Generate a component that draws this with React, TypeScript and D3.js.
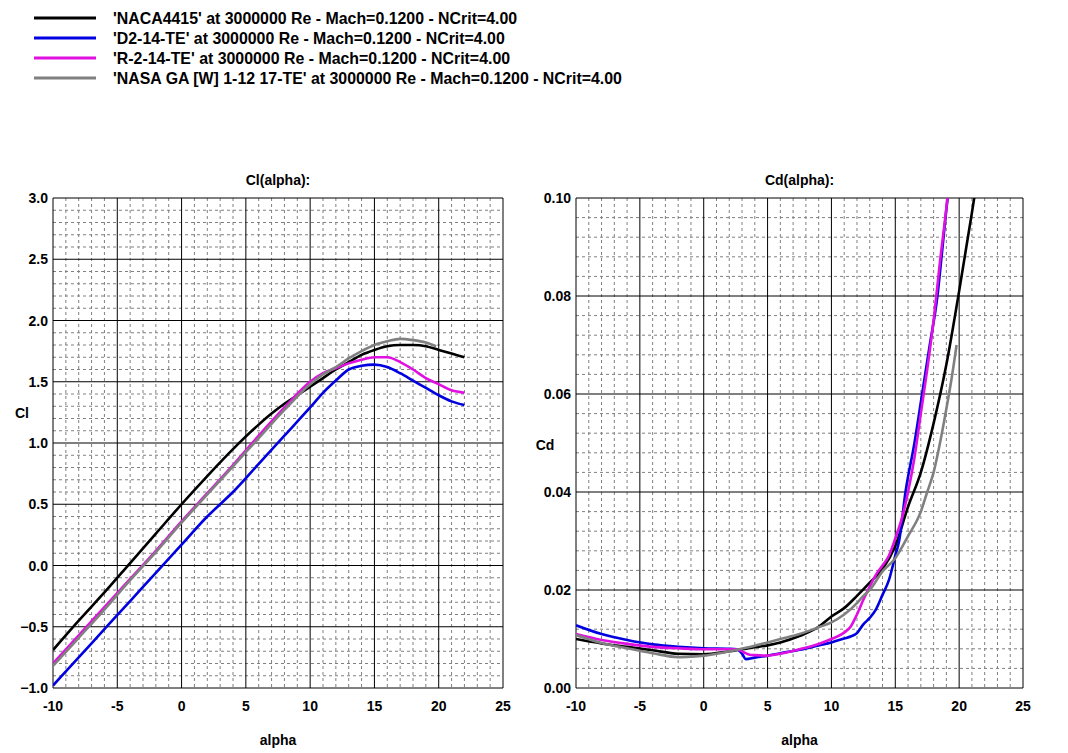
import React from "react";
import * as d3 from "d3";

const seriesNames = [
  "'NACA4415' at 3000000 Re - Mach=0.1200 - NCrit=4.00",
  "'D2-14-TE' at 3000000 Re - Mach=0.1200 - NCrit=4.00",
  "'R-2-14-TE' at 3000000 Re - Mach=0.1200 - NCrit=4.00",
  "'NASA GA [W] 1-12 17-TE' at 3000000 Re - Mach=0.1200 - NCrit=4.00",
];
const seriesColors = ["#000000", "#0000e0", "#e010e0", "#808080"];

// Cl(alpha): [alpha, Cl]
const clNaca4415: [number, number][] = [
  [-10, -0.69], [-8, -0.45], [-6, -0.22], [-4, 0.02], [-2, 0.26], [0, 0.5],
  [2, 0.73], [4, 0.95], [6, 1.15], [7, 1.24], [8, 1.32], [9, 1.39],
  [10, 1.46], [11, 1.53], [12, 1.6], [13, 1.66], [14, 1.72], [15, 1.76],
  [16, 1.79], [17, 1.8], [18, 1.8], [19, 1.79], [20, 1.76], [21, 1.73], [22, 1.7],
];
const clD214: [number, number][] = [
  [-10, -0.98], [-8, -0.75], [-6, -0.52], [-4, -0.29], [-2, -0.06], [0, 0.17],
  [2, 0.4], [3, 0.5], [4, 0.6], [6, 0.83], [8, 1.06], [10, 1.29], [11, 1.41],
  [12, 1.51], [13, 1.6], [14, 1.63], [15, 1.64], [16, 1.62], [17, 1.57],
  [18, 1.51], [19, 1.45], [20, 1.39], [21, 1.34], [22, 1.31],
];
const clR214: [number, number][] = [
  [-10, -0.8], [-8, -0.57], [-6, -0.34], [-4, -0.11], [-2, 0.12], [0, 0.36],
  [2, 0.59], [4, 0.82], [6, 1.06], [8, 1.29], [10, 1.5], [11, 1.57],
  [12, 1.61], [13, 1.65], [14, 1.68], [15, 1.7], [16, 1.7], [17, 1.66],
  [18, 1.6], [19, 1.53], [20, 1.48], [21, 1.43], [22, 1.41],
];
const clNasaGa: [number, number][] = [
  [-10, -0.82], [-8, -0.59], [-6, -0.36], [-4, -0.12], [-2, 0.11], [0, 0.35],
  [2, 0.58], [4, 0.81], [6, 1.04], [8, 1.27], [10, 1.48], [11, 1.56],
  [12, 1.62], [13, 1.69], [14, 1.75], [15, 1.8], [16, 1.83], [17, 1.85],
  [18, 1.84], [19, 1.82], [19.8, 1.79],
];

// Cd(alpha): [alpha, Cd]
const cdNaca4415: [number, number][] = [
  [-10, 0.01], [-8, 0.0091], [-6, 0.0084], [-4, 0.0077], [-2, 0.007], [0, 0.0069],
  [2, 0.0075], [4, 0.0083], [5, 0.0087], [6, 0.0093], [7.5, 0.0106], [9, 0.0125],
  [10, 0.0146], [11, 0.0163], [12, 0.0188], [13, 0.0215], [14, 0.0243],
  [15, 0.029], [16, 0.037], [17, 0.044], [18, 0.054], [19, 0.066], [20, 0.081],
  [21, 0.097], [21.3, 0.102],
];
const cdD214: [number, number][] = [
  [-10, 0.0128], [-8, 0.011], [-6, 0.0098], [-4, 0.0089], [-2, 0.0084], [0, 0.0081],
  [2, 0.008], [2.6, 0.0079], [3.0, 0.007], [3.3, 0.0059], [4, 0.0062], [5, 0.0066],
  [6, 0.0071], [7.5, 0.0078], [9, 0.0087], [10, 0.0093], [11, 0.0101],
  [11.5, 0.0105], [12, 0.0112], [12.5, 0.013], [13, 0.0143], [13.5, 0.0161],
  [14, 0.019], [14.5, 0.022], [15, 0.027], [15.3, 0.03], [15.8, 0.04],
  [16.5, 0.05], [17.1, 0.06], [17.7, 0.07], [18.3, 0.08], [18.7, 0.09],
  [19.1, 0.1], [19.3, 0.104],
];
const cdR214: [number, number][] = [
  [-10, 0.011], [-8, 0.0098], [-6, 0.009], [-4, 0.0084], [-2, 0.0081], [0, 0.0079],
  [2, 0.0079], [2.6, 0.0079], [3.2, 0.0072], [3.6, 0.0068], [4, 0.0067], [5, 0.0066],
  [6, 0.007], [7.5, 0.0079], [9, 0.009], [10, 0.01], [11, 0.0113], [11.5, 0.0125],
  [12, 0.015], [12.5, 0.018], [13, 0.0207], [13.5, 0.0232], [14, 0.025],
  [14.5, 0.027], [15, 0.0305], [15.5, 0.0345], [16, 0.04], [16.5, 0.047],
  [17, 0.056], [17.5, 0.065], [18, 0.075], [18.5, 0.087], [19, 0.098], [19.2, 0.103],
];
const cdNasaGa: [number, number][] = [
  [-10, 0.0108], [-8, 0.0092], [-6, 0.0081], [-4, 0.0071], [-2, 0.0063], [-1, 0.0064],
  [0, 0.0066], [1, 0.007], [2, 0.0075], [4, 0.0086], [5, 0.0093], [6, 0.01],
  [7.5, 0.011], [9, 0.0124], [10, 0.0134], [11, 0.015], [12, 0.0173],
  [12.5, 0.0188], [13, 0.02], [14, 0.0238], [15, 0.0265], [16, 0.031],
  [17, 0.036], [17.5, 0.04], [18, 0.044], [18.5, 0.05], [19, 0.057],
  [19.4, 0.063], [19.8, 0.07],
];

const clSeries = [clNaca4415, clD214, clR214, clNasaGa];
const cdSeries = [cdNaca4415, cdD214, cdR214, cdNasaGa];

const alphaTicks = [-10, -5, 0, 5, 10, 15, 20, 25];
const clTicks = [-1.0, -0.5, 0.0, 0.5, 1.0, 1.5, 2.0, 2.5, 3.0];
const cdTicks = [0.0, 0.02, 0.04, 0.06, 0.08, 0.1];

const W = 1068;
const H = 753;
const TOP = 198;
const BOTTOM = 688;
const FONT = "'Liberation Sans', Arial, sans-serif";

type PanelProps = {
  id: string;
  left: number;
  right: number;
  title: string;
  yLabel: string;
  yLabelPos: [number, number];
  yDomain: [number, number];
  yTicks: number[];
  yMinorStep: number;
  yFormat: (v: number) => string;
  series: [number, number][][];
};

function Panel(p: PanelProps) {
  const x = d3.scaleLinear().domain([-10, 25]).range([p.left, p.right]);
  const y = d3.scaleLinear().domain(p.yDomain).range([BOTTOM, TOP]);
  const line = d3
    .line<[number, number]>()
    .x((d) => x(d[0]))
    .y((d) => y(d[1]))
    .curve(d3.curveMonotoneX);

  const xMinor = d3.range(-10, 25.001, 1).filter((v) => Math.abs(v % 5) > 1e-6);
  const nMinor = Math.round((p.yDomain[1] - p.yDomain[0]) / p.yMinorStep);
  const yMinor = d3
    .range(0, nMinor + 1)
    .map((i) => p.yDomain[0] + i * p.yMinorStep)
    .filter((_, i) => i % 5 !== 0);
  const midX = (p.left + p.right) / 2;

  return (
    <g>
      <defs>
        <clipPath id={p.id}>
          <rect x={p.left} y={TOP} width={p.right - p.left} height={BOTTOM - TOP} />
        </clipPath>
      </defs>
      <g stroke="#808080" strokeWidth={1} strokeDasharray="3,3">
        {xMinor.map((v) => (
          <line key={"xm" + v} x1={x(v)} x2={x(v)} y1={TOP} y2={BOTTOM} />
        ))}
        {yMinor.map((v, i) => (
          <line key={"ym" + i} x1={p.left} x2={p.right} y1={y(v)} y2={y(v)} />
        ))}
      </g>
      <g stroke="#000" strokeWidth={1}>
        {alphaTicks.map((v) => (
          <line key={"xM" + v} x1={x(v)} x2={x(v)} y1={TOP} y2={BOTTOM} />
        ))}
        {p.yTicks.map((v) => (
          <line key={"yM" + v} x1={p.left} x2={p.right} y1={y(v)} y2={y(v)} />
        ))}
      </g>
      <g clipPath={`url(#${p.id})`} fill="none" strokeWidth={2.6} strokeLinejoin="round">
        {p.series.map((s, i) => (
          <path key={i} d={line(s) ?? ""} stroke={seriesColors[i]} />
        ))}
      </g>
      <g fontFamily={FONT} fontWeight="bold" fontSize={14} fill="#000">
        {alphaTicks.map((v) => (
          <text key={"xt" + v} x={x(v)} y={BOTTOM + 23} textAnchor="middle">
            {v}
          </text>
        ))}
        {p.yTicks.map((v) => (
          <text key={"yt" + v} x={p.left - 5} y={y(v) + 5} textAnchor="end">
            {p.yFormat(v)}
          </text>
        ))}
        <text x={midX} y={TOP - 13} textAnchor="middle">
          {p.title}
        </text>
        <text x={midX} y={BOTTOM + 57} textAnchor="middle">
          alpha
        </text>
        <text x={p.yLabelPos[0]} y={p.yLabelPos[1] + 5} textAnchor="middle">
          {p.yLabel}
        </text>
      </g>
    </g>
  );
}

export default function App() {
  return (
    <svg
      width={W}
      height={H}
      viewBox={`0 0 ${W} ${H}`}
      style={{ position: "absolute", left: 0, top: 0, background: "#fff" }}
    >
      <rect width={W} height={H} fill="#fff" />
      <g fontFamily={FONT} fontWeight="bold" fontSize={15.9}>
        {seriesNames.map((name, i) => (
          <g key={name} transform={`translate(0, ${18 + i * 20})`}>
            <line x1={34} x2={96} y1={0} y2={0} stroke={seriesColors[i]} strokeWidth={3} />
            <text x={113} y={5.5}>
              {name}
            </text>
          </g>
        ))}
      </g>
      <Panel
        id="clip-cl"
        left={53}
        right={503}
        title="Cl(alpha):"
        yLabel="Cl"
        yLabelPos={[22, 413]}
        yDomain={[-1, 3]}
        yTicks={clTicks}
        yMinorStep={0.1}
        yFormat={d3.format(".1f")}
        series={clSeries}
      />
      <Panel
        id="clip-cd"
        left={576}
        right={1023}
        title="Cd(alpha):"
        yLabel="Cd"
        yLabelPos={[545, 445]}
        yDomain={[0, 0.1]}
        yTicks={cdTicks}
        yMinorStep={0.004}
        yFormat={d3.format(".2f")}
        series={cdSeries}
      />
    </svg>
  );
}
